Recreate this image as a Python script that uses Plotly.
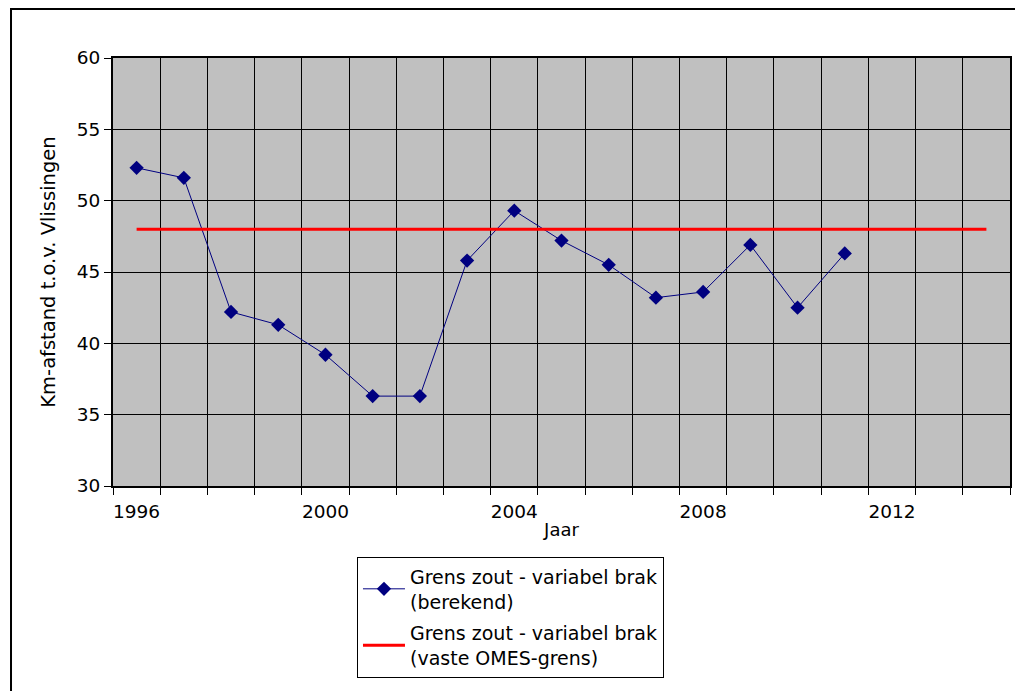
import plotly.graph_objects as go

years = [1996, 1997, 1998, 1999, 2000, 2001, 2002, 2003, 2004, 2005, 2006, 2007, 2008, 2009, 2010, 2011]
berekend = [52.3, 51.6, 42.2, 41.3, 39.2, 36.3, 36.3, 45.8, 49.3, 47.2, 45.5, 43.2, 43.6, 46.9, 42.5, 46.3]
omes_years = list(range(1996, 2015))
omes_value = [48.0] * len(omes_years)
x_tick_vals = [1996, 2000, 2004, 2008, 2012]
x_tick_text = ["1996", "2000", "2004", "2008", "2012"]

FONT = "DejaVu Sans"

fig = go.Figure()
fig.add_trace(go.Scatter(
    x=years, y=berekend, mode="lines+markers",
    name="Grens zout - variabel brak<br>(berekend)",
    legendgroup="a",
    line=dict(color="#000080", width=1),
    marker=dict(symbol="diamond", size=11, color="#000080"),
))
fig.add_trace(go.Scatter(
    x=omes_years, y=omes_value, mode="lines",
    name="Grens zout - variabel brak<br>(vaste OMES-grens)",
    legendgroup="b",
    line=dict(color="#FF0000", width=3),
))

fig.update_layout(
    width=1015, height=683,
    margin=dict(l=105, r=13, t=50, b=205, autoexpand=False),
    paper_bgcolor="white",
    plot_bgcolor="#C0C0C0",
    font=dict(family=FONT, size=18, color="black"),
    showlegend=True,
    legend=dict(
        x=0.272, y=-0.165, xanchor="left", yanchor="top",
        bordercolor="black", borderwidth=1, bgcolor="white",
        font=dict(family=FONT, size=19, color="black"),
        tracegroupgap=4, itemwidth=42,
    ),
    xaxis=dict(
        range=[1995.5, 2014.5],
        tickmode="array", tickvals=x_tick_vals, ticktext=x_tick_text,
        ticks="", showgrid=False, zeroline=False,
        showline=True, linecolor="black", linewidth=2, mirror=True,
        minor=dict(tick0=1995.5, dtick=1, ticks="outside", ticklen=7,
                   tickcolor="black", showgrid=True, gridcolor="black", gridwidth=1),
        title=dict(text="Jaar", font=dict(family=FONT, size=18), standoff=2),
        tickfont=dict(family=FONT, size=18.5),
        ticklabelstandoff=8,
        automargin=False,
    ),
    yaxis=dict(
        range=[30, 60], dtick=5, tick0=30,
        ticks="outside", ticklen=7, tickcolor="black",
        showgrid=True, gridcolor="black", gridwidth=1, zeroline=False,
        showline=True, linecolor="black", linewidth=2, mirror=True,
        title=dict(text="Km-afstand t.o.v. Vlissingen", font=dict(family=FONT, size=19.5), standoff=16),
        tickfont=dict(family=FONT, size=18.5),
        automargin=False,
    ),
    shapes=[dict(type="rect", xref="paper", yref="paper",
                 x0=-0.1137, x1=1.0123, y0=-0.55, y1=1.1145,
                 line=dict(color="black", width=2), fillcolor="rgba(0,0,0,0)", layer="below")],
)

fig.write_html("out.html")
